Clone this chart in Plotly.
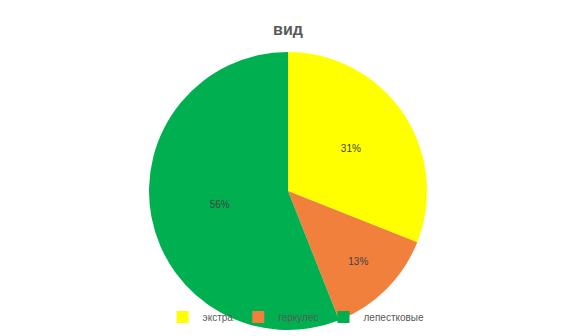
import plotly.graph_objects as go

categories = ["экстра", "геркулес", "лепестковые"]
values = [31, 13, 56]
colors = ["#FFFF00", "#F0803C", "#00B050"]

W, H = 576, 336
cx, cy, r = 288, 191, 139

fig = go.Figure(go.Pie(
    labels=categories,
    values=values,
    sort=False,
    direction="clockwise",
    rotation=0,
    marker=dict(colors=colors, line=dict(width=0)),
    textinfo="percent",
    texttemplate="%{percent:.0%}",
    textposition="inside",
    insidetextorientation="horizontal",
    textfont=dict(family="Liberation Sans", size=10, color="#404040"),
    hoverinfo="label+percent",
    domain=dict(x=[(cx - r) / W, (cx + r) / W], y=[(H - cy - r) / H, (H - cy + r) / H]),
))

fig.update_layout(
    width=W, height=H,
    margin=dict(l=0, r=0, t=0, b=0),
    paper_bgcolor="white",
    title=dict(text="<b>вид</b>", x=0.5, xanchor="center", y=1 - 29 / H, yanchor="middle",
               font=dict(family="Liberation Sans", size=16, color="#595959")),
    legend=dict(orientation="h", x=0.514, xanchor="center", y=1 - 317 / H, yanchor="middle",
                font=dict(family="Liberation Sans", size=10, color="#595959"),
                bgcolor="rgba(0,0,0,0)", itemwidth=30, tracegroupgap=0),
    showlegend=True,
)

fig.write_html("out.html")
